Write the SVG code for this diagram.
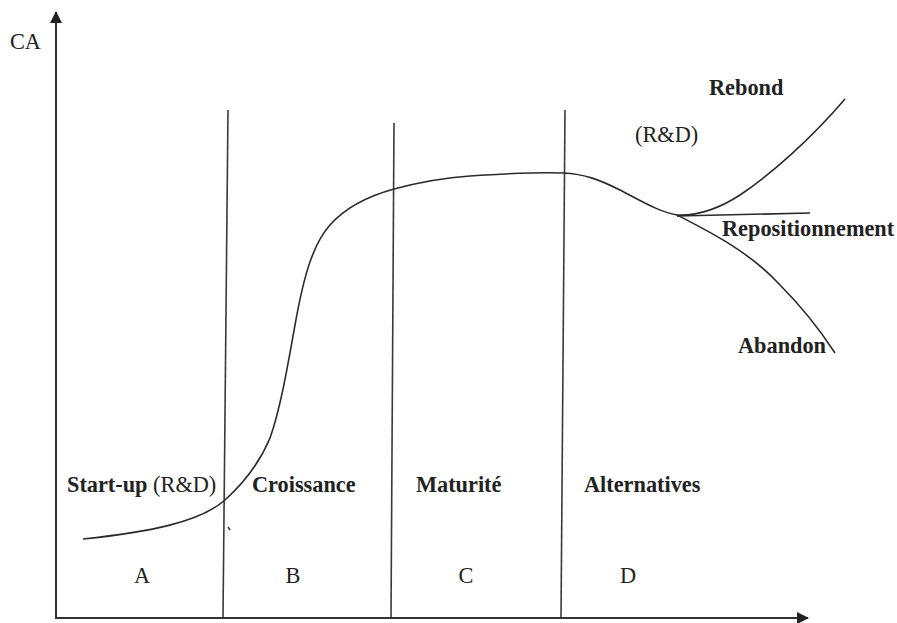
<svg xmlns="http://www.w3.org/2000/svg" width="897" height="623" viewBox="0 0 897 623">
<style>
.ax{stroke:#333;stroke-width:2;fill:none}
.ln{stroke:#3a3a3a;stroke-width:1.6;fill:none}
.cv{stroke:#2a2a2a;stroke-width:1.6;fill:none}
text{font-family:"Liberation Serif","Times New Roman",serif;font-size:22.3px;fill:#222}
.b{font-weight:bold}
</style>
<defs>
<marker id="ah" markerWidth="12" markerHeight="12" refX="11" refY="6" orient="auto" markerUnits="userSpaceOnUse">
<path d="M0,0 L12,6 L0,12 Z" fill="#222"/>
</marker>
</defs>
<rect width="897" height="623" fill="#fff"/>
<g id="axes">
<line class="ax" x1="56" y1="619" x2="56" y2="12" marker-end="url(#ah)"/>
<line class="ax" x1="55" y1="618" x2="808" y2="618" marker-end="url(#ah)"/>
<text x="10" y="49">CA</text>
</g>
<g id="dividers">
<line class="ln" x1="228" y1="110" x2="223" y2="617"/>
<line class="ln" x1="394" y1="123" x2="391" y2="617"/>
<line class="ln" x1="565" y1="110" x2="561" y2="617"/>
<line class="ln" x1="228" y1="527" x2="230" y2="530"/>
</g>
<g id="connectors">
<path class="cv" d="M83,539 C150,532 200,522 225,500 C245,482 260,462 270,438 C280,410 287,370 295,325 C303,280 312,245 330,225 C345,208 365,197 394,189 C420,182 440,178 470,176 C500,174 540,172 563,173 C585,174 600,180 620,190 C645,203 660,212 677,215"/>
<path class="cv" d="M677,215 C700,216 720,208 740,195 C770,175 810,140 845,99"/>
<path class="cv" d="M677,216 L810,213"/>
<path class="cv" d="M677,215 C710,232 750,252 780,285 C800,305 820,330 835,353"/>
</g>
<g id="phase-a">
<text x="67" y="492"><tspan class="b">Start-up</tspan> (R&amp;D)</text>
<text x="142" y="583" text-anchor="middle">A</text>
</g>
<g id="phase-b">
<text class="b" x="252" y="492">Croissance</text>
<text x="293" y="583" text-anchor="middle">B</text>
</g>
<g id="phase-c">
<text class="b" x="416" y="492">Maturité</text>
<text x="466" y="583" text-anchor="middle">C</text>
</g>
<g id="phase-d">
<text class="b" x="584" y="492">Alternatives</text>
<text x="628" y="583" text-anchor="middle">D</text>
</g>
<g id="outcomes">
<text class="b" x="709" y="95">Rebond</text>
<text x="635" y="142">(R&amp;D)</text>
<text class="b" x="722" y="236">Repositionnement</text>
<text class="b" x="738" y="353">Abandon</text>
</g>
</svg>
